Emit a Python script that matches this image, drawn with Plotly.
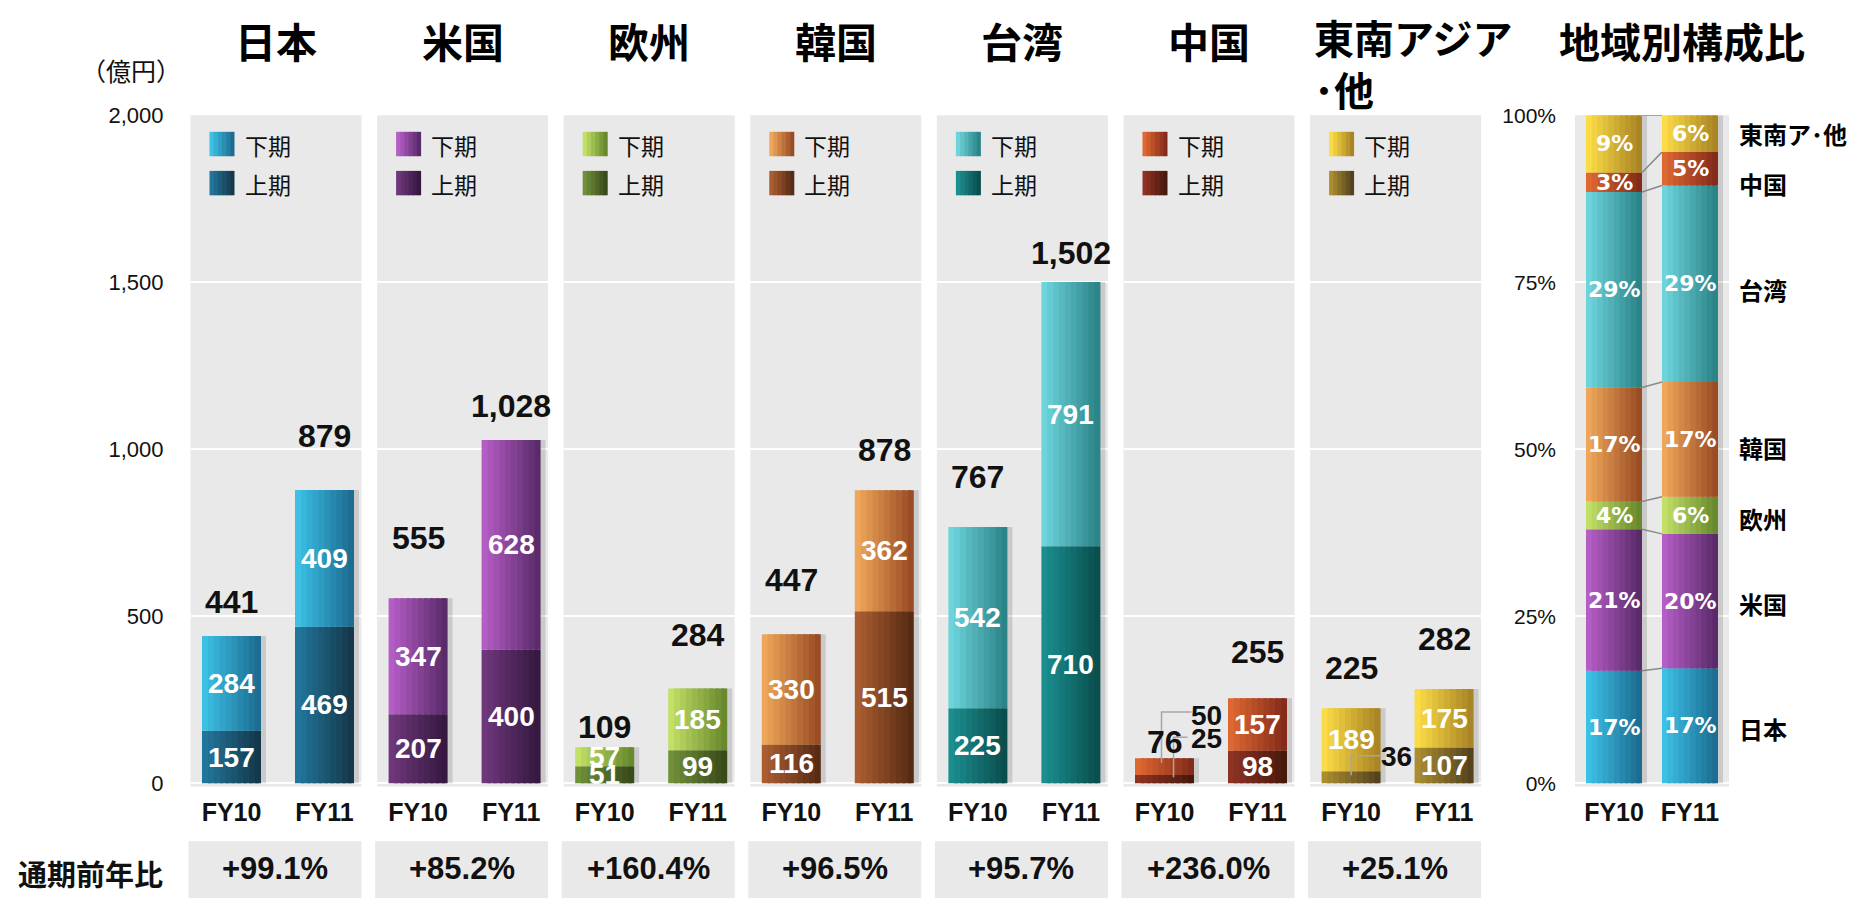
import plotly.graph_objects as go

# ---------------- data ----------------
regions = ["日本", "米国", "欧州", "韓国", "台湾", "中国", "東南アジア･他"]
region_titles = ["日本", "米国", "欧州", "韓国", "台湾", "中国", "東南アジア<br>･他"]
share_names = ["日本", "米国", "欧州", "韓国", "台湾", "中国", "東南ア･他"]
years = ["FY10", "FY11"]
period_names = ["下期", "上期"]

h1_fy10 = [157, 207, 51, 116, 225, 25, 36]      # 上期
h1_fy11 = [469, 400, 99, 515, 710, 98, 107]
h2_fy10 = [284, 347, 57, 330, 542, 50, 189]     # 下期
h2_fy11 = [409, 628, 185, 362, 791, 157, 175]
total_fy10 = [441, 555, 109, 447, 767, 76, 225]
total_fy11 = [879, 1028, 284, 878, 1502, 255, 282]
yoy_labels = ["+99.1%", "+85.2%", "+160.4%", "+96.5%", "+95.7%", "+236.0%", "+25.1%"]
y_ticks = [0, 500, 1000, 1500, 2000]
share_ticks = [0, 25, 50, 75, 100]

# ---------------- styles ----------------
col_h2 = [("#3cc0e4", "#1d6c92"), ("#b45dc5", "#5a2b6a"), ("#c2df66", "#68892d"),
          ("#eea75a", "#9a4d25"), ("#6dd4db", "#2b8488"), ("#de6831", "#842b1b"),
          ("#fbdc46", "#aa8525")]
col_h1 = [("#22769c", "#15384b"), ("#6e377b", "#361940"), ("#71903a", "#394a1b"),
          ("#aa5e30", "#582b15"), ("#1b8e8e", "#0b4e4e"), ("#8e3323", "#48190d"),
          ("#ab8d30", "#55421f")]

W, H = 1857, 899
OX, OY = 8, 8          # page (body margin) offset compensation
P0, PITCH, PW = 190.5, 186.6, 171.0
Y_TOP, Y_BOT = 105.5, 793.0
Y_MIN, Y_MAX = -10.0, 2000.0
PXPU_Y = (Y_BOT - Y_TOP) / (Y_MAX - Y_MIN)
X0_OFF, PXPU_X, BW_PX = 41.0, 93.0, 59.0
C_LEFT, C_W, C_X0_OFF, C_PXPU_X, C_BW_PX = 1575.0, 154.0, 39.0, 76.0, 56.0
C_MIN = Y_MIN / Y_MAX * 100

GRAY = "#e9e9e9"
LATIN = "Liberation Sans, Arial, Noto Sans CJK JP, sans-serif"
CJK = "Noto Sans CJK JP, Liberation Sans, sans-serif"

# total label vertical offsets (px above bar top)
total_dy = [[34, 54], [60, 34], [20, 53], [54, 40], [50, 29], [16, 46], [40, 50]]
# right-hand share name label nudges (px downward)
share_name_dy = [3, 2, 3, 8, 6, 15, 0]
# labels drawn outside the bar with leader lines: (panel, year, period) ->
# (line start dx, line start dy, elbow dy, line end dx, label dx, label dy) in px
outside = {
    (5, 0, 0): (-3, 4, 56, 27, 42, 51),
    (5, 0, 1): (9, 2, 43, 23, 42, 41),
    (6, 0, 1): (0, 2, 22, 30, 45, 21),
}


def px_x(p):
    return (p - OX) / W


def px_y(p):
    return 1 - (p - OY) / H


def lerp(c0, c1, t):
    a = [int(c0[i:i + 2], 16) for i in (1, 3, 5)]
    b = [int(c1[i:i + 2], 16) for i in (1, 3, 5)]
    return "rgb(%d,%d,%d)" % tuple(round(a[i] + (b[i] - a[i]) * t) for i in range(3))


fig = go.Figure()


def grad_bars(xa, ya, xs, ys, bases, width, c0, c1, n=10):
    sw = width / n
    for k in range(n):
        t = k / (n - 1)
        wk = sw * (1.6 if k < n - 1 else 1.0)
        fig.add_trace(go.Bar(
            x=xs, y=ys, base=bases, width=[wk] * len(xs), offset=-width / 2 + k * sw,
            marker=dict(color=lerp(c0, c1, t), line=dict(width=0)),
            xaxis=xa, yaxis=ya, hoverinfo="skip", showlegend=False))


def shadow(xa, ya, xs, tops, width, shift):
    fig.add_trace(go.Bar(
        x=xs, y=tops, base=[0] * len(xs), width=[width] * len(xs), offset=-width / 2 + shift,
        marker=dict(color="rgba(0,0,0,0.13)", line=dict(width=0)),
        xaxis=xa, yaxis=ya, hoverinfo="skip", showlegend=False))


layout = dict(
    width=W, height=H, margin=dict(l=0, r=0, t=0, b=0), autosize=False,
    plot_bgcolor=GRAY, paper_bgcolor="white", barmode="overlay", showlegend=False,
)
annotations = []
shapes = []

xs = [0, 1]
bw = BW_PX / PXPU_X
y_dom = [px_y(Y_BOT), px_y(Y_TOP)]

for i in range(7):
    sfx = "" if i == 0 else str(i + 1)
    xa, ya = "x" + sfx, "y" + sfx
    left = P0 + i * PITCH
    layout["xaxis" + sfx] = dict(
        domain=[px_x(left), px_x(left + PW)], anchor=ya,
        range=[-X0_OFF / PXPU_X, (PW - X0_OFF) / PXPU_X],
        tickvals=xs, ticktext=["<b>%s</b>" % y for y in years],
        tickfont=dict(family=LATIN, size=25, color="#111"), ticks="",
        showgrid=False, zeroline=False, showline=False, ticklabelstandoff=8, fixedrange=True)
    layout["yaxis" + sfx] = dict(
        domain=y_dom, anchor=xa, range=[Y_MIN, Y_MAX], tickvals=y_ticks, tickformat=",d",
        showgrid=True, gridcolor="white", gridwidth=2, zeroline=False, showline=False,
        ticks="", showticklabels=(i == 0), ticklabelstandoff=26,
        tickfont=dict(family=LATIN, size=22, color="#111"), fixedrange=True)

    h1 = [h1_fy10[i], h1_fy11[i]]
    h2 = [h2_fy10[i], h2_fy11[i]]
    tops = [h1[j] + h2[j] for j in range(2)]
    totals = [total_fy10[i], total_fy11[i]]

    shadow(xa, ya, xs, tops, bw, 5 / PXPU_X)
    grad_bars(xa, ya, xs, h1, [0, 0], bw, *col_h1[i])
    grad_bars(xa, ya, xs, h2, h1, bw, *col_h2[i])

    # segment labels
    for j in range(2):
        for p, (val, base) in enumerate([(h2[j], h1[j]), (h1[j], 0)]):
            yc = base + val / 2
            key = (i, j, p)
            if key in outside:
                sx, sy, ey, exx, tx, ty = outside[key]
                fig.add_trace(go.Scatter(
                    x=[j + sx / PXPU_X, j + sx / PXPU_X, j + exx / PXPU_X],
                    y=[yc + sy / PXPU_Y, yc + ey / PXPU_Y, yc + ey / PXPU_Y],
                    mode="lines", line=dict(color="#a6a6a6", width=1.5),
                    xaxis=xa, yaxis=ya, hoverinfo="skip", showlegend=False, cliponaxis=False))
                annotations.append(dict(
                    x=j, y=yc, xref=xa, yref=ya, xshift=tx, yshift=ty, showarrow=False,
                    text="<b>%d</b>" % val, font=dict(family=LATIN, size=28, color="#111"),
                    xanchor="center", yanchor="middle"))
            else:
                annotations.append(dict(
                    x=j, y=yc, xref=xa, yref=ya, showarrow=False,
                    text="<b>%d</b>" % val, font=dict(family=LATIN, size=28, color="white"),
                    xanchor="center", yanchor="middle"))
        annotations.append(dict(
            x=j, y=tops[j], xref=xa, yref=ya, yshift=total_dy[i][j], showarrow=False,
            text="<b>{:,}</b>".format(totals[j]), font=dict(family=LATIN, size=32, color="#111"),
            xanchor="center", yanchor="middle"))

    # title
    if i < 6:
        annotations.append(dict(
            x=px_x(left + PW / 2), y=px_y(28), xref="paper", yref="paper", showarrow=False,
            text="<b>%s</b>" % region_titles[i], font=dict(family=CJK, size=41, color="black"),
            xanchor="center", yanchor="middle"))
    else:
        annotations.append(dict(
            x=px_x(left + 2), y=px_y(52), xref="paper", yref="paper", showarrow=False,
            text="<b>%s</b>" % region_titles[i], font=dict(family=CJK, size=40, color="black"),
            xanchor="left", yanchor="middle", align="left"))

    # legend swatches
    for p, (cols, yc) in enumerate([(col_h2[i], 135), (col_h1[i], 175)]):
        n = 6
        for k in range(n):
            x0 = left + 19 + k * 25 / n
            shapes.append(dict(
                type="rect", xref="paper", yref="paper",
                x0=px_x(x0), x1=px_x(x0 + 25 / n + (0.6 if k < n - 1 else 0)),
                y0=px_y(yc + 12.5), y1=px_y(yc - 12.5),
                fillcolor=lerp(cols[0], cols[1], k / (n - 1)), line=dict(width=0), layer="above"))
        annotations.append(dict(
            x=px_x(left + 52), y=px_y(yc + 1), xref="paper", yref="paper", showarrow=False,
            text=period_names[p], font=dict(family=CJK, size=23, color="#111"),
            xanchor="left", yanchor="middle"))

    # yoy box
    shapes.append(dict(type="rect", xref="paper", yref="paper",
                       x0=px_x(left - 2), x1=px_x(left + PW), y0=0, y1=px_y(849),
                       fillcolor=GRAY, line=dict(width=0), layer="below"))
    annotations.append(dict(
        x=px_x(left - 2 + (PW + 2) / 2), y=px_y(877), xref="paper", yref="paper", showarrow=False,
        text="<b>%s</b>" % yoy_labels[i], font=dict(family=LATIN, size=31, color="#111"),
        xanchor="center", yanchor="middle"))

# ---------------- composition chart ----------------
sum10, sum11 = sum(total_fy10), sum(total_fy11)
share10 = [t / sum10 * 100 for t in total_fy10]
share11 = [t / sum11 * 100 for t in total_fy11]
cbw = C_BW_PX / C_PXPU_X
layout["xaxis8"] = dict(
    domain=[px_x(C_LEFT), px_x(C_LEFT + C_W)], anchor="y8",
    range=[-C_X0_OFF / C_PXPU_X, (C_W - C_X0_OFF) / C_PXPU_X],
    tickvals=xs, ticktext=["<b>%s</b>" % y for y in years],
    tickfont=dict(family=LATIN, size=25, color="#111"), ticks="",
    showgrid=False, zeroline=False, showline=False, ticklabelstandoff=8, fixedrange=True)
layout["yaxis8"] = dict(
    domain=y_dom, anchor="x8", range=[C_MIN, 100], tickvals=share_ticks,
    ticktext=["%d%%" % v for v in share_ticks],
    showgrid=True, gridcolor="white", gridwidth=2, zeroline=False, showline=False,
    ticks="", ticklabelstandoff=18, tickfont=dict(family=LATIN, size=21, color="#111"),
    fixedrange=True)

shadow("x8", "y8", xs, [100, 100], cbw, 5 / C_PXPU_X)
cum10, cum11 = 0.0, 0.0
line_x, line_y = [], []
for r in range(7):
    grad_bars("x8", "y8", xs, [share10[r], share11[r]], [cum10, cum11], cbw, *col_h2[r])
    annotations.append(dict(x=0, y=cum10 + share10[r] / 2, xref="x8", yref="y8", showarrow=False,
                            text="<b>%d%%</b>" % round(share10[r]),
                            font=dict(family="DejaVu Sans", size=22, color="white"),
                            xanchor="center", yanchor="middle"))
    annotations.append(dict(x=1, y=cum11 + share11[r] / 2, xref="x8", yref="y8", showarrow=False,
                            text="<b>%d%%</b>" % round(share11[r]),
                            font=dict(family="DejaVu Sans", size=22, color="white"),
                            xanchor="center", yanchor="middle"))
    annotations.append(dict(x=px_x(1737), y=cum11 + share11[r] / 2, xref="paper", yref="y8",
                            yshift=-share_name_dy[r],
                            showarrow=False, text="<b>%s</b>" % share_names[r],
                            font=dict(family=CJK, size=24, color="black"),
                            xanchor="left", yanchor="middle"))
    cum10 += share10[r]
    cum11 += share11[r]
    line_x += [cbw / 2, 1 - cbw / 2, None]
    line_y += [cum10, cum11, None]

fig.add_trace(go.Scatter(x=line_x, y=line_y, mode="lines", line=dict(color="#8a8a8a", width=1.5),
                         xaxis="x8", yaxis="y8", hoverinfo="skip", showlegend=False,
                         cliponaxis=False))

annotations.append(dict(x=px_x(C_LEFT + C_W / 2 + 30), y=px_y(28), xref="paper", yref="paper",
                        showarrow=False, text="<b>地域別構成比</b>",
                        font=dict(family=CJK, size=41, color="black"),
                        xanchor="center", yanchor="middle"))
annotations.append(dict(x=px_x(131), y=px_y(59), xref="paper", yref="paper", showarrow=False,
                        text="（億円）", font=dict(family=CJK, size=25, color="#111"),
                        xanchor="center", yanchor="middle"))
annotations.append(dict(x=px_x(16), y=px_y(881), xref="paper", yref="paper", showarrow=False,
                        text="<b>通期前年比</b>", font=dict(family=CJK, size=29, color="#111"),
                        xanchor="left", yanchor="middle"))

layout["annotations"] = annotations
layout["shapes"] = shapes
fig.update_layout(**layout)
fig.write_html("out.html")
